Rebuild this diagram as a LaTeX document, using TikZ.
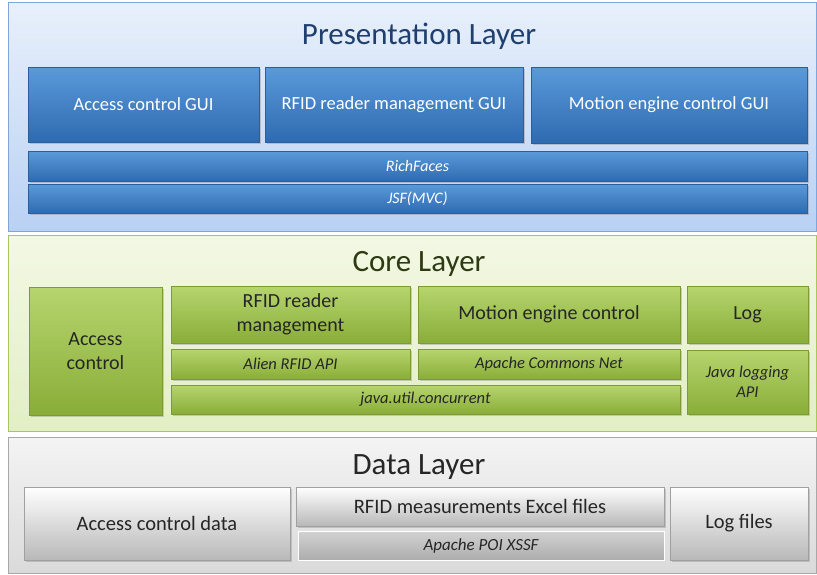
\documentclass[tikz,border=0pt]{standalone}
\usepackage{fontspec}
\setmainfont{Carlito}
\usetikzlibrary{shadows}
\definecolor{presA}{HTML}{E8F0FB}
\definecolor{presB}{HTML}{B9D1F4}
\definecolor{presL}{HTML}{7FA6DA}
\definecolor{blueA}{HTML}{5A9ADA}
\definecolor{blueB}{HTML}{2E6AB0}
\definecolor{blueL}{HTML}{2A5F9E}
\definecolor{coreA}{HTML}{F3F8E4}
\definecolor{coreB}{HTML}{E2EFC4}
\definecolor{coreL}{HTML}{A8C65C}
\definecolor{grnA}{HTML}{B6D56E}
\definecolor{grnB}{HTML}{89AD38}
\definecolor{grnL}{HTML}{7C9C33}
\definecolor{dataA}{HTML}{F4F4F4}
\definecolor{dataB}{HTML}{DADADA}
\definecolor{dataL}{HTML}{A8A8A8}
\definecolor{gryA}{HTML}{FFFFFF}
\definecolor{gryB}{HTML}{B8B8B8}
\definecolor{gryL}{HTML}{A0A0A0}
\definecolor{poiA}{HTML}{D2D2D2}
\definecolor{poiB}{HTML}{ADADAD}
\definecolor{titleblue}{HTML}{1F3F6E}
\definecolor{titlegreen}{HTML}{2E3A12}
\tikzset{
  layerframe/.style={draw=#1, line width=0.8pt, inner sep=0pt},
  bluebox/.style={draw=blueL, line width=0.5pt, top color=blueA, bottom color=blueB,
    text=white, font=\fontsize{18.5}{21}\selectfont, align=center, inner sep=1pt,
    drop shadow={opacity=0.35, shadow xshift=1.5pt, shadow yshift=-1.5pt}},
  bluethin/.style={bluebox, font=\itshape\fontsize{16}{18}\selectfont},
  grnbox/.style={draw=grnL, line width=0.5pt, top color=grnA, bottom color=grnB,
    text=black!85, font=\fontsize{20}{24}\selectfont, align=center, inner sep=1pt,
    drop shadow={opacity=0.35, shadow xshift=1.5pt, shadow yshift=-1.5pt}},
  grnthin/.style={grnbox, font=\itshape\fontsize{16.5}{20}\selectfont},
  grybox/.style={draw=gryL, line width=0.5pt, top color=gryA, bottom color=gryB,
    text=black!85, font=\fontsize{20.5}{23}\selectfont, align=center, inner sep=1pt,
    drop shadow={opacity=0.35, shadow xshift=1.5pt, shadow yshift=-1.5pt}},
  grythin/.style={draw=white, line width=1pt, top color=poiA, bottom color=poiB,
    text=black!85, font=\itshape\fontsize{17}{19}\selectfont, align=center, inner sep=1pt},
  layertitle/.style={font=\fontsize{31}{34}\selectfont, inner sep=0pt}
}
\begin{document}
\begin{tikzpicture}[x=1pt,y=-1pt]
\useasboundingbox (0,0) rectangle (817,574);
% layer frames
\path[layerframe=presL, top color=presA, bottom color=presB] (8,2) rectangle (816,231);
\path[layerframe=coreL, top color=coreA, bottom color=coreB] (8,235) rectangle (816,431);
\path[layerframe=dataL, top color=dataA, bottom color=dataB] (8,437) rectangle (816,573);
% titles
\node[layertitle, text=titleblue] (pt) at (419,36) {Presentation Layer};
\node[layertitle, text=titlegreen] (ct) at (419,264) {Core Layer};
\node[layertitle, text=black!85] (dt) at (419,467) {Data Layer};
% presentation layer
\node[bluebox, minimum width=231pt, minimum height=75pt] (acg) at (143.5,104.5) {Access control GUI};
\node[bluebox, minimum width=258pt, minimum height=75pt] (rgui) at (394,104.5) {RFID reader management GUI};
\node[bluebox, minimum width=276pt, minimum height=76pt] (mgui) at (669,105) {Motion engine control GUI};
\node[bluethin, minimum width=779pt, minimum height=30pt] (rich) at (417.5,166) {RichFaces};
\node[bluethin, minimum width=779pt, minimum height=29pt] (jsf) at (417.5,198.5) {JSF(MVC)};
% core layer
\node[grnbox, minimum width=133pt, minimum height=128pt] (ac) at (95.5,351) {Access\\control};
\node[grnbox, minimum width=239pt, minimum height=57pt] (rfid) at (290.5,314.5) {RFID reader\\management};
\node[grnbox, minimum width=262pt, minimum height=57pt] (mec) at (549,314.5) {Motion engine control};
\node[grnbox, minimum width=121pt, minimum height=57pt] (log) at (747.5,314.5) {Log};
\node[grnthin, minimum width=239pt, minimum height=30pt] (alien) at (290.5,364) {Alien RFID API};
\node[grnthin, minimum width=262pt, minimum height=30pt] (acn) at (549,364) {Apache Commons Net};
\node[grnthin, minimum width=509pt, minimum height=29pt] (juc) at (425.5,399.5) {java.util.concurrent};
\node[grnthin, minimum width=121pt, minimum height=64pt] (jla) at (747.5,382) {Java logging\\API};
% data layer
\node[grybox, minimum width=266pt, minimum height=73pt] (acd) at (157,523.5) {Access control data};
\node[grybox, minimum width=368pt, minimum height=39pt] (rme) at (480,506.5) {RFID measurements Excel files};
\node[grythin, minimum width=366pt, minimum height=29pt] (poi) at (481,545.5) {Apache POI XSSF};
\node[grybox, minimum width=138pt, minimum height=73pt] (lf) at (739,523.5) {Log files};
\end{tikzpicture}
\end{document}
